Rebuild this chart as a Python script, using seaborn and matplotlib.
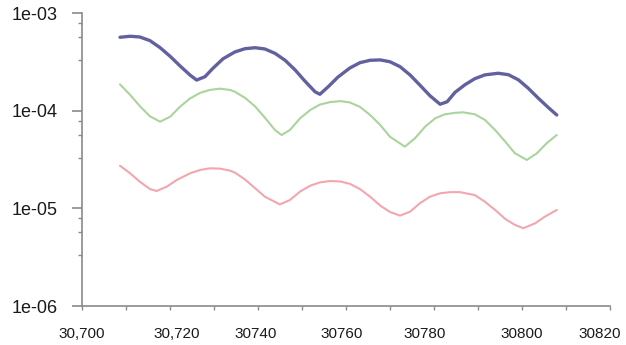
import matplotlib
matplotlib.use("Agg")
import matplotlib.pyplot as plt
import matplotlib.ticker as mticker
import matplotlib.transforms as mtransforms
import seaborn as sns
import pandas as pd

blue_x = [30708.7, 30711.0, 30713.2, 30715.5, 30717.8, 30720.1, 30722.3, 30724.6, 30726.1, 30728.0,
          30729.8, 30732.1, 30734.8, 30737.1, 30739.4, 30741.6, 30743.9, 30746.2, 30748.5, 30750.7,
          30753.0, 30754.1, 30756.0, 30758.2, 30760.9, 30763.2, 30765.5, 30767.8, 30770.0, 30772.3,
          30774.6, 30776.8, 30779.1, 30781.4, 30783.0, 30784.8, 30787.1, 30789.3, 30791.6, 30794.6,
          30796.9, 30799.2, 30801.4, 30803.7, 30806.0, 30807.9]
blue_y = [5.68e-4, 5.82e-4, 5.72e-4, 5.25e-4, 4.45e-4, 3.62e-4, 2.90e-4, 2.33e-4, 2.07e-4, 2.24e-4,
          2.73e-4, 3.42e-4, 4.02e-4, 4.34e-4, 4.44e-4, 4.31e-4, 3.89e-4, 3.30e-4, 2.62e-4, 2.02e-4,
          1.57e-4, 1.48e-4, 1.77e-4, 2.22e-4, 2.75e-4, 3.12e-4, 3.30e-4, 3.33e-4, 3.19e-4, 2.84e-4,
          2.33e-4, 1.84e-4, 1.43e-4, 1.17e-4, 1.24e-4, 1.55e-4, 1.86e-4, 2.14e-4, 2.34e-4, 2.43e-4,
          2.35e-4, 2.08e-4, 1.71e-4, 1.35e-4, 1.08e-4, 9.08e-5]

green_x = [30708.7, 30711.0, 30713.2, 30715.5, 30717.8, 30720.1, 30722.3, 30724.6, 30726.9, 30729.1,
           30731.4, 30733.7, 30734.8, 30737.1, 30739.4, 30741.6, 30743.9, 30745.4, 30747.3, 30749.6,
           30751.9, 30754.1, 30756.4, 30758.7, 30760.9, 30763.2, 30765.5, 30767.8, 30770.0, 30773.4,
           30775.7, 30778.0, 30780.3, 30782.5, 30784.8, 30786.6, 30789.3, 30791.6, 30793.9, 30796.2,
           30798.4, 30801.1, 30803.4, 30805.6, 30807.9]
green_y = [1.87e-4, 1.46e-4, 1.12e-4, 8.80e-5, 7.75e-5, 8.72e-5, 1.10e-4, 1.34e-4, 1.53e-4, 1.64e-4,
           1.69e-4, 1.64e-4, 1.57e-4, 1.36e-4, 1.11e-4, 8.52e-5, 6.37e-5, 5.66e-5, 6.37e-5, 8.40e-5,
           1.02e-4, 1.16e-4, 1.23e-4, 1.26e-4, 1.22e-4, 1.10e-4, 9.08e-5, 7.17e-5, 5.44e-5, 4.30e-5,
           5.24e-5, 6.89e-5, 8.40e-5, 9.23e-5, 9.55e-5, 9.67e-5, 9.23e-5, 8.07e-5, 6.37e-5, 4.84e-5,
           3.68e-5, 3.14e-5, 3.68e-5, 4.66e-5, 5.66e-5]

pink_x = [30708.7, 30711.0, 30713.2, 30715.5, 30717.0, 30719.3, 30721.6, 30724.6, 30726.9, 30729.1,
          30731.4, 30733.7, 30734.8, 30737.1, 30739.4, 30741.6, 30745.0, 30747.3, 30749.6, 30751.9,
          30754.1, 30756.4, 30758.7, 30760.9, 30763.2, 30765.5, 30767.8, 30770.0, 30772.3, 30774.6,
          30776.8, 30779.1, 30781.4, 30783.7, 30785.9, 30789.3, 30791.6, 30793.9, 30796.2, 30798.4,
          30800.3, 30803.0, 30805.2, 30807.9]
pink_y = [2.74e-5, 2.29e-5, 1.88e-5, 1.58e-5, 1.51e-5, 1.67e-5, 1.96e-5, 2.29e-5, 2.48e-5, 2.58e-5,
          2.56e-5, 2.44e-5, 2.33e-5, 1.98e-5, 1.61e-5, 1.32e-5, 1.10e-5, 1.22e-5, 1.49e-5, 1.71e-5,
          1.85e-5, 1.91e-5, 1.89e-5, 1.79e-5, 1.58e-5, 1.32e-5, 1.07e-5, 9.21e-6, 8.44e-6, 9.27e-6,
          1.13e-5, 1.32e-5, 1.43e-5, 1.47e-5, 1.47e-5, 1.37e-5, 1.17e-5, 9.65e-6, 7.81e-6, 6.78e-6,
          6.27e-6, 7.05e-6, 8.24e-6, 9.65e-6]

series_names = ["blue", "green", "pink"]
x_ticks = [30700, 30720, 30740, 30760, 30780, 30800, 30820]
x_tick_labels = ["30,700", "30,720", "30740", "30760", "30780", "30800", "30820"]
y_ticks = [1e-6, 1e-5, 1e-4, 1e-3]
y_tick_labels = ["1e-06", "1e-05", "1e-04", "1e-03"]

df = pd.concat([
    pd.DataFrame({"x": blue_x, "y": blue_y, "s": "blue"}),
    pd.DataFrame({"x": green_x, "y": green_y, "s": "green"}),
    pd.DataFrame({"x": pink_x, "y": pink_y, "s": "pink"}),
])

sns.set_theme(style="white")
plt.rcParams["font.family"] = ["Liberation Sans", "DejaVu Sans"]
plt.rcParams["lines.solid_joinstyle"] = "round"
plt.rcParams["lines.solid_capstyle"] = "round"

fig = plt.figure(figsize=(6.26, 3.45), dpi=100)
ax = fig.add_axes([0.1305, 0.113, 0.844, 0.8484])

palette = {"blue": "#62619f", "green": "#aad49c", "pink": "#f2a6ae"}
sizes = {"blue": 2.4, "green": 1.5, "pink": 1.5}
sns.lineplot(data=df, x="x", y="y", hue="s", palette=palette, size="s", sizes=sizes,
             legend=False, ax=ax, sort=False, estimator=None)

ax.set_yscale("log")
ax.set_ylim(1e-6, 1e-3)
ax.set_xlim(30700, 30820)

ax.set_xticks(x_ticks)
ax.set_xticklabels(x_tick_labels)
ax.xaxis.set_minor_locator(mticker.MultipleLocator(10))
ax.set_yticks(y_ticks)
ax.set_yticklabels(y_tick_labels)
minor_y = []
for d in [1e-6, 1e-5, 1e-4]:
    for m in [3.3, 5.7, 7.9]:
        minor_y.append(d * m)
ax.yaxis.set_minor_locator(mticker.FixedLocator(minor_y))
ax.yaxis.set_minor_formatter(mticker.NullFormatter())

ax.set_xlabel("")
ax.set_ylabel("")
for sp in ["top", "right"]:
    ax.spines[sp].set_visible(False)
for sp in ["left", "bottom"]:
    ax.spines[sp].set_color("#8a8a8a")
    ax.spines[sp].set_linewidth(1.2)

ax.tick_params(axis="y", which="major", direction="out", length=7, width=1.2,
               color="#8a8a8a", labelsize=13, pad=10, labelcolor="#1a1a1a", left=True)
ax.tick_params(axis="y", which="minor", direction="out", length=3, width=1.0,
               color="#8a8a8a", left=True)
ax.tick_params(axis="x", which="both", direction="out", length=3, width=1.0,
               color="#8a8a8a", bottom=True)
ax.tick_params(axis="x", which="major", labelsize=11, pad=12, labelcolor="#1a1a1a")

# horizontal nudges of x labels (pixels) as placed in the reference
label_shift_px = [0, 7, -2, -4, -9, 0, -10]
for lab, dx in zip(ax.get_xticklabels(), label_shift_px):
    lab.set_transform(lab.get_transform() +
                      mtransforms.ScaledTranslation(dx / 100.0, 0, fig.dpi_scale_trans))

fig.savefig("out.png", dpi=100, facecolor="white")
